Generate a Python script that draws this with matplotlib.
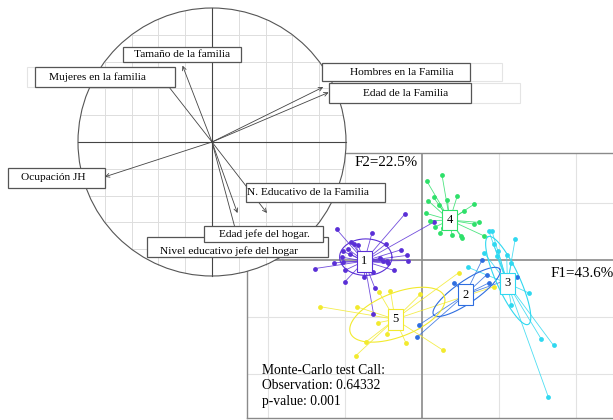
import matplotlib.pyplot as plt
import numpy as np
from matplotlib.patches import Rectangle, Circle

plt.rcParams['font.family'] = ['Liberation Serif', 'DejaVu Serif']

# ---- correlation circle (loadings on F1 / F2) ----
var_names = ['Tamaño de la familia', 'Mujeres en la familia', 'Hombres en la Familia',
             'Edad de la Familia', 'Ocupación JH', 'N. Educativo de la Familia',
             'Nivel educativo jefe del hogar', 'Edad jefe del hogar.']
var_f1 = [-0.22, -0.43, 0.83, 0.87, -0.80, 0.41, 0.19, 0.19]
var_f2 = [0.57, 0.55, 0.41, 0.37, -0.26, -0.53, -0.71, -0.53]

# ---- class scores on F1 / F2 ----
class_names = ['1', '2', '3', '4', '5']
class_colors = ['#5a2fd6', '#2f6ee0', '#2fd8f0', '#2ee06a', '#f2ea2e']
class_centers = [(-0.75, -0.02), (0.56, -0.61), (1.11, -0.41), (0.36, 0.70), (-0.35, -1.04)]

pts_1 = [(-0.22, 0.81), (-1.11, 0.54), (-0.65, 0.47), (-0.92, 0.32), (-0.88, 0.28),
         (-0.83, 0.26), (-0.96, 0.19), (-0.47, 0.28), (-1.02, 0.15), (-0.94, 0.11),
         (-1.04, 0.05), (-0.27, 0.18), (-0.20, 0.08), (-0.18, -0.01), (-1.02, -0.03),
         (-1.14, -0.05), (-0.54, 0.03), (-0.51, -0.01), (-0.45, -0.02), (-0.44, -0.06),
         (-1.39, -0.15), (-1.00, -0.18), (-0.67, -0.12), (-0.64, -0.21), (-0.37, -0.18),
         (-1.00, -0.38), (-0.75, -0.30), (-0.61, -0.50), (-0.63, -0.94), (0.16, 0.67)]
pts_2 = [(0.84, -0.26), (0.87, -0.40), (0.42, -0.40), (0.78, 0.00), (1.23, -0.29),
         (-0.04, -1.14), (-0.06, -1.35)]
pts_3 = [(1.21, 0.36), (0.93, 0.28), (0.81, 0.12), (0.99, 0.15), (0.97, 0.07),
         (1.10, 0.09), (0.60, -0.13), (1.16, -0.06), (1.39, -0.58), (1.16, -0.79),
         (1.55, -1.39), (1.71, -1.50), (1.64, -2.40), (0.91, 0.50), (0.87, 0.50)]
pts_4 = [(0.26, 1.49), (0.06, 1.39), (0.15, 1.10), (0.08, 1.04), (0.33, 1.05),
         (0.46, 1.13), (0.68, 0.98), (0.22, 0.96), (0.05, 0.82), (0.55, 0.86),
         (0.10, 0.69), (0.17, 0.58), (0.27, 0.57), (0.39, 0.60), (0.67, 0.63),
         (0.74, 0.66), (0.23, 0.47), (0.39, 0.44), (0.51, 0.42), (0.52, 0.38),
         (0.81, 0.42)]
pts_5 = [(-1.32, -0.82), (-0.85, -0.82), (-0.56, -0.56), (-0.41, -0.54), (-0.02, -0.60),
         (-0.57, -1.10), (-0.46, -1.30), (-0.21, -1.45), (-0.73, -1.44), (-0.86, -1.68),
         (0.27, -1.58), (0.48, -0.22), (0.93, -0.47)]
class_points = [pts_1, pts_2, pts_3, pts_4, pts_5]

# ellipses: centre, first and second semi-axis vectors (None = not drawn)
class_ellipses = [((-0.73, 0.05), (0.34, 0.0), (0.0, 0.32)),
                  ((0.58, -0.56), (0.43, 0.40), (0.08, -0.16)),
                  ((1.12, -0.36), (-0.26, 0.77), (0.136, 0.084)),
                  None,
                  ((-0.32, -0.96), (0.61, 0.32), (0.10, -0.36))]

inertia_f1 = 43.6
inertia_f2 = 22.5
mc_obs = 0.64332
mc_pvalue = 0.001

W, H = 613, 420
fig = plt.figure(figsize=(W / 100, H / 100), dpi=100)

# ================= scatter of classes =================
ax = fig.add_axes([247 / W, 2 / H, 366 / W, 265 / H])
ax.set_xlim(-2.273, 2.481)
ax.set_ylim(-2.772, 1.877)
ax.set_xticks([])
ax.set_yticks([])
for s in ['left', 'top', 'bottom']:
    ax.spines[s].set_color('#8a8a8a')
    ax.spines[s].set_linewidth(1.0)
ax.spines['right'].set_visible(False)

for g in [-2, -1, 1, 2]:
    ax.axvline(g, color='#e2e2e2', lw=0.8, zorder=0)
for g in [-2, -1, 1]:
    ax.axhline(g, color='#e2e2e2', lw=0.8, zorder=0)
ax.axvline(0, color='#8a8a8a', lw=1.2, zorder=0)
ax.axhline(0, color='#8a8a8a', lw=1.2, zorder=0)

t = np.linspace(0, 2 * np.pi, 200)
for k, pts in enumerate(class_points):
    c = class_colors[k]
    cx, cy = class_centers[k]
    xs = [p[0] for p in pts]
    ys = [p[1] for p in pts]
    for x, y in pts:
        ax.plot([cx, x], [cy, y], color=c, lw=0.6, alpha=0.85, zorder=1)
    ax.scatter(xs, ys, s=12, color=c, zorder=3, linewidths=0)
    el = class_ellipses[k]
    if el is not None:
        (ex, ey), (ax1, ay1), (bx1, by1) = el
        ax.plot(ex + np.cos(t) * ax1 + np.sin(t) * bx1,
                ey + np.cos(t) * ay1 + np.sin(t) * by1, color=c, lw=0.8, zorder=2)

for k, name in enumerate(class_names):
    cx, cy = class_centers[k]
    ax.text(cx, cy, name, ha='center', va='center', fontsize=9, zorder=4,
            bbox=dict(boxstyle='square,pad=0.35', fc='white', ec=class_colors[k], lw=0.8))

ax.text(0.38, 0.966, 'F2=%.1f%%' % inertia_f2, transform=ax.transAxes,
        ha='center', va='center', fontsize=10.8, zorder=5)
ax.text(0.915, 0.547, 'F1=%.1f%%' % inertia_f1, transform=ax.transAxes,
        ha='center', va='center', fontsize=10.8, zorder=5)
ax.text(0.041, 0.181, 'Monte-Carlo test Call:', transform=ax.transAxes,
        ha='left', va='center', fontsize=9.8)
ax.text(0.041, 0.121, 'Observation: %.5f' % mc_obs, transform=ax.transAxes,
        ha='left', va='center', fontsize=9.8)
ax.text(0.041, 0.064, 'p-value: %.3f' % mc_pvalue, transform=ax.transAxes,
        ha='left', va='center', fontsize=9.8)

# ================= correlation circle =================
R = 1.15
half = R * 134
cax = fig.add_axes([(212 - half) / W, (H - 142 - half) / H, 2 * half / W, 2 * half / H])
cax.set_xlim(-R, R)
cax.set_ylim(-R, R)
cax.axis('off')
cax.set_zorder(2)

cax.add_patch(Circle((0, 0), 1, fc='white', ec='none', zorder=0))
for g in np.arange(-0.8, 0.81, 0.2):
    if abs(g) < 1e-9:
        continue
    h = np.sqrt(1 - g ** 2)
    cax.plot([g, g], [-h, h], color='#dddddd', lw=0.7, zorder=1)
    cax.plot([-h, h], [g, g], color='#dddddd', lw=0.7, zorder=1)
cax.plot([-1, 1], [0, 0], color='#444444', lw=0.8, zorder=2)
cax.plot([0, 0], [-1, 1], color='#444444', lw=0.8, zorder=2)
cax.add_patch(Circle((0, 0), 1, fc='none', ec='#555555', lw=0.8, zorder=2))

for x, y in zip(var_f1, var_f2):
    cax.annotate('', xy=(x, y), xytext=(0, 0), zorder=3,
                 arrowprops=dict(arrowstyle='->', color='#444444', lw=0.6,
                                 mutation_scale=7, shrinkA=0, shrinkB=0))

# label boxes (same order as var_names): x0, x1, y0, y1, text centre x, text centre y
label_boxes = [(-0.664, 0.216, 0.597, 0.709, -0.224, 0.653),
               (-1.321, -0.276, 0.410, 0.560, -0.858, 0.485),
               (0.821, 1.925, 0.455, 0.590, 1.418, 0.522),
               (0.873, 1.933, 0.291, 0.440, 1.448, 0.365),
               (-1.522, -0.799, -0.343, -0.194, -1.183, -0.268),
               (0.254, 1.291, -0.448, -0.306, 0.713, -0.377),
               (-0.485, 0.866, -0.858, -0.709, 0.123, -0.812),
               (-0.060, 0.828, -0.745, -0.630, 0.391, -0.688)]
faint_boxes = [(-1.381, -0.276, 0.410, 0.560),
               (0.821, 2.164, 0.455, 0.590),
               (0.873, 2.299, 0.291, 0.440)]

for x0, x1, y0, y1 in faint_boxes:
    cax.add_patch(Rectangle((x0, y0), x1 - x0, y1 - y0, fc='white', ec='#e4e4e4',
                            lw=0.8, zorder=4, clip_on=False))
for i, (name, (x0, x1, y0, y1, tx, ty)) in enumerate(zip(var_names, label_boxes)):
    z = 5 + 2 * i
    cax.add_patch(Rectangle((x0, y0), x1 - x0, y1 - y0, fc='white', ec='#555555',
                            lw=0.9, zorder=z, clip_on=False))
    cax.text(tx, ty, name, ha='center', va='center', fontsize=8.2,
             zorder=z + 1, clip_on=False)

fig.savefig('out.png', dpi=100)
